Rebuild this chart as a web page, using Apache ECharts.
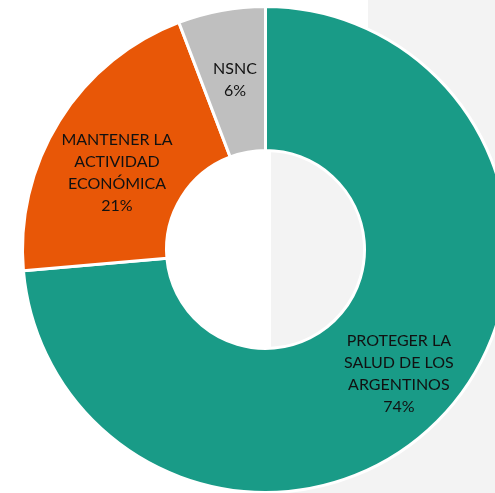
<!DOCTYPE html>
<html>
<head>
<meta charset="utf-8">
<script src="https://cdn.jsdelivr.net/npm/echarts@6/dist/echarts.min.js"></script>
<style>
  html, body { margin: 0; padding: 0; background: #fff; }
  #chart { width: 495px; height: 493px; }
</style>
</head>
<body>
<div id="chart"></div>
<script>
// categorias y valores (porcentajes)
var names = ['PROTEGER LA\nSALUD DE LOS\nARGENTINOS', 'MANTENER LA\nACTIVIDAD\nECONÓMICA', 'NSNC'];
var values = [73.6, 20.6, 5.8];
var colors = ['#199b87', '#e85707', '#bfbfbf'];
var offsets = [[5, 7], [-1, 16], [1, 1]];

var chart = echarts.init(document.getElementById('chart'));

var pieData = [];
for (var i in values) {
  pieData.push({
    value: values[i],
    name: names[i],
    itemStyle: { color: colors[i] },
    label: { offset: offsets[i] }
  });
}

chart.setOption({
  animation: false,
  backgroundColor: '#ffffff',
  graphic: [
    { type: 'rect', z: -10, shape: { x: 368, y: 0, width: 127, height: 493 }, style: { fill: '#f3f3f3' } },
    { type: 'rect', z: -10, shape: { x: 271, y: 40, width: 224, height: 453 }, style: { fill: '#f3f3f3' } }
  ],
  series: [{
    type: 'pie',
    center: [265.5, 249.5],
    radius: [99, 243],
    startAngle: 90,
    clockwise: true,
    avoidLabelOverlap: false,
    itemStyle: { borderColor: '#ffffff', borderWidth: 3 },
    label: {
      show: true,
      position: 'inside',
      color: '#111111',
      fontFamily: 'Lato',
      fontSize: 16,
      lineHeight: 22,
      align: 'center',
      formatter: function (p) {
        return p.name + '\n' + Math.round(p.value) + '%';
      }
    },
    labelLine: { show: false },
    emphasis: { disabled: true },
    data: pieData
  }]
});
</script>
</body>
</html>
